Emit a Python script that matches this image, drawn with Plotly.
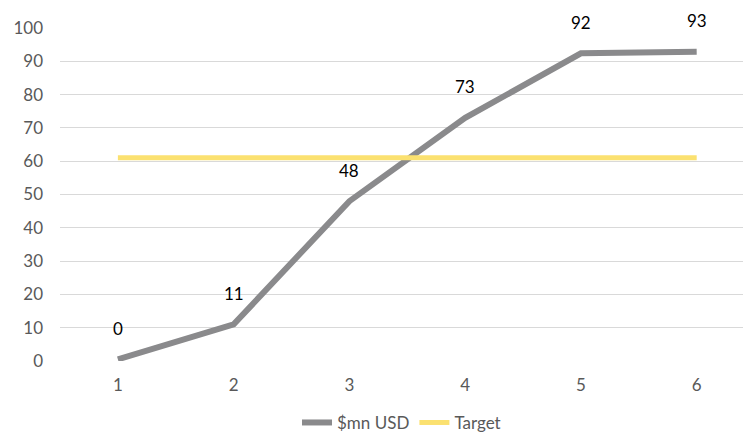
import plotly.graph_objects as go

periods = [1, 2, 3, 4, 5, 6]
usd_mn = [0.5, 11, 48, 73, 92.4, 92.9]
target = [61, 61, 61, 61, 61, 61]
labels = ["0", "11", "48", "73", "92", "93"]

FONT = "Lato"

fig = go.Figure()
fig.add_trace(go.Scatter(
    x=periods, y=usd_mn, mode="lines", name="$mn USD",
    line=dict(color="#8A8A8C", width=6), cliponaxis=False,
))
fig.add_trace(go.Scatter(
    x=periods, y=target, mode="lines", name="Target",
    line=dict(color="#FBE170", width=5), cliponaxis=False,
))

for xv, yv, t in zip(periods, usd_mn, labels):
    fig.add_annotation(x=xv, y=yv, text=t, showarrow=False, yshift=31,
                       font=dict(family=FONT, size=17, color="#000000"))

fig.update_layout(
    width=743, height=436,
    margin=dict(l=60, r=0, t=28, b=75, autoexpand=False),
    paper_bgcolor="white", plot_bgcolor="white",
    font=dict(family=FONT, size=17, color="#595959"),
    showlegend=True,
    legend=dict(orientation="h", x=0.5, xanchor="center", xref="paper",
                yref="container", y=0.03, yanchor="middle",
                font=dict(size=17, color="#595959"),
                itemwidth=30, tracegroupgap=0),
)
fig.update_xaxes(
    range=[0.5, 6.4], tickvals=periods, ticktext=[str(p) for p in periods],
    showgrid=False, zeroline=False, showline=False, ticks="",
    ticklabelstandoff=12,
)
fig.update_yaxes(
    range=[0, 100], tickvals=list(range(0, 101, 10)),
    showgrid=True, gridcolor="#D9D9D9", gridwidth=1,
    zeroline=False, showline=False, ticks="", ticklabelstandoff=16,
)

fig.write_html("out.html")
